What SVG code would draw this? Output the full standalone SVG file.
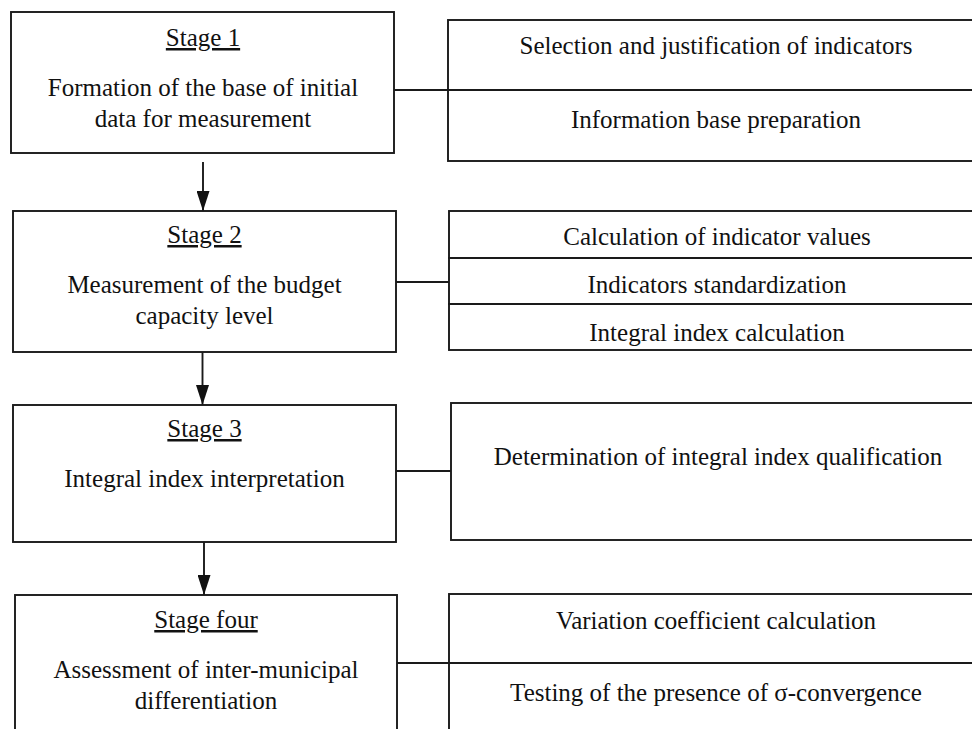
<svg xmlns="http://www.w3.org/2000/svg" width="972" height="729" viewBox="0 0 972 729">
  <style>
    .box { fill: #ffffff; stroke: #1a1a1a; stroke-width: 1.9; }
    .ln { fill: none; stroke: #1a1a1a; stroke-width: 1.9; }
    text { font-family: "Liberation Serif", "Times New Roman", serif; font-size: 25px; fill: #111111; text-anchor: middle; }
    .u { text-decoration: underline; }
  </style>
  <defs>
    <marker id="arr" markerUnits="userSpaceOnUse" markerWidth="20" markerHeight="13" refX="20" refY="6.5" orient="auto" viewBox="0 0 20 13">
      <path d="M0,0 L20,6.5 L0,13 Z" fill="#111111"/>
    </marker>
  </defs>
  <rect width="972" height="729" fill="#ffffff"/>

  <g id="connectors">
    <line class="ln" x1="203" y1="162" x2="203" y2="211" marker-end="url(#arr)"/>
    <line class="ln" x1="202.5" y1="352" x2="202.5" y2="405" marker-end="url(#arr)"/>
    <line class="ln" x1="204" y1="542" x2="204" y2="595" marker-end="url(#arr)"/>
    <line class="ln" x1="394" y1="90" x2="448" y2="90"/>
    <line class="ln" x1="396" y1="282" x2="449" y2="282"/>
    <line class="ln" x1="396" y1="471" x2="451" y2="471"/>
    <line class="ln" x1="397" y1="663" x2="449" y2="663"/>
  </g>

  <g id="stage1">
    <rect class="box" x="11" y="12" width="383" height="141"/>
    <text class="u" x="203" y="46">Stage 1</text>
    <text x="203" y="96">Formation of the base of initial</text>
    <text x="203" y="127">data for measurement</text>
  </g>

  <g id="stage1-tasks">
    <rect class="box" x="448" y="20" width="540" height="141"/>
    <line class="ln" x1="448" y1="90" x2="988" y2="90"/>
    <text x="716" y="54">Selection and justification of indicators</text>
    <text x="716" y="128">Information base preparation</text>
  </g>

  <g id="stage2">
    <rect class="box" x="13" y="211" width="383" height="141"/>
    <text class="u" x="204.5" y="243">Stage 2</text>
    <text x="204.5" y="293">Measurement of the budget</text>
    <text x="204.5" y="324">capacity level</text>
  </g>

  <g id="stage2-tasks">
    <rect class="box" x="449" y="211" width="540" height="139"/>
    <line class="ln" x1="448" y1="258" x2="988" y2="258"/>
    <line class="ln" x1="448" y1="304" x2="988" y2="304"/>
    <text x="717" y="245">Calculation of indicator values</text>
    <text x="717" y="293">Indicators standardization</text>
    <text x="717" y="341">Integral index calculation</text>
  </g>

  <g id="stage3">
    <rect class="box" x="13" y="405" width="383" height="137"/>
    <text class="u" x="204.5" y="437">Stage 3</text>
    <text x="204.5" y="487">Integral index interpretation</text>
  </g>

  <g id="stage3-tasks">
    <rect class="box" x="451" y="403" width="540" height="137"/>
    <text x="718" y="465">Determination of integral index qualification</text>
  </g>

  <g id="stage4">
    <rect class="box" x="15" y="595" width="382" height="150"/>
    <text class="u" x="206" y="628">Stage four</text>
    <text x="206" y="678">Assessment of inter-municipal</text>
    <text x="206" y="709">differentiation</text>
  </g>

  <g id="stage4-tasks">
    <rect class="box" x="449" y="594" width="540" height="150"/>
    <line class="ln" x1="449" y1="663" x2="988" y2="663"/>
    <text x="716" y="629">Variation coefficient calculation</text>
    <text x="716" y="701">Testing of the presence of σ-convergence</text>
  </g>
</svg>
